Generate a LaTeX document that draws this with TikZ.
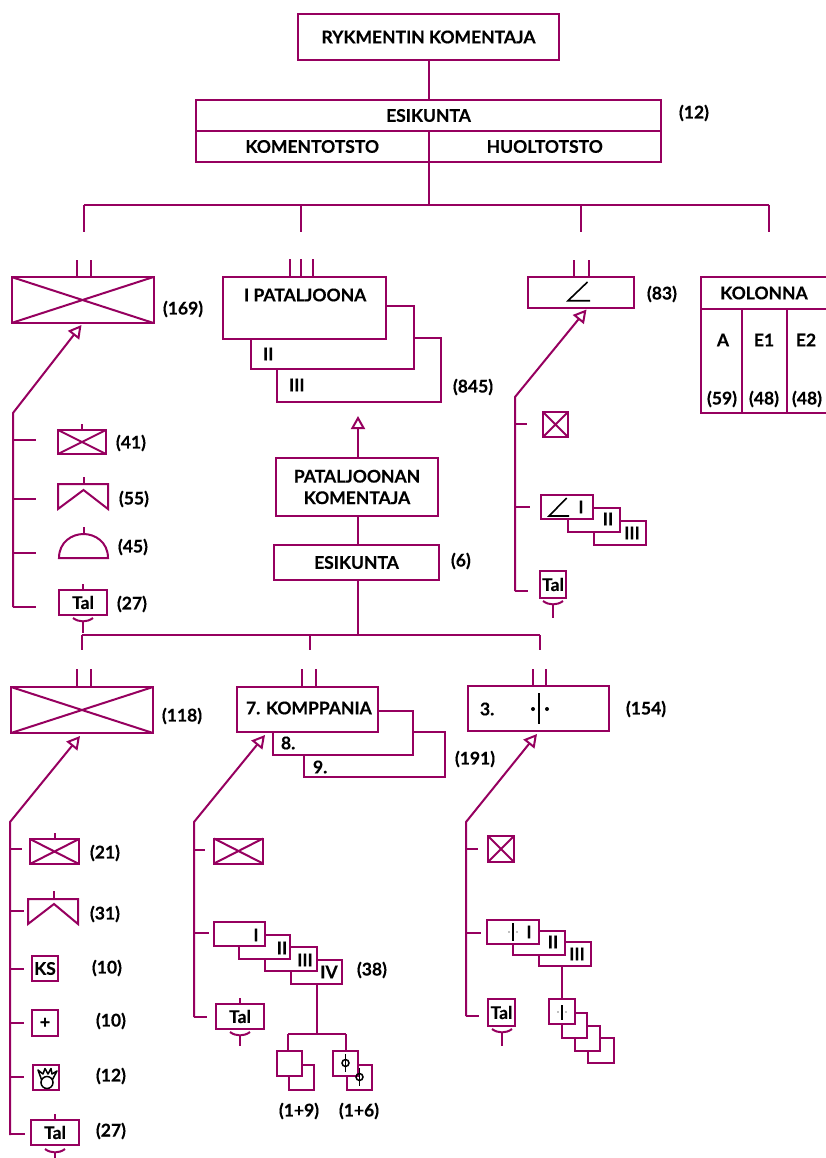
\documentclass[tikz,border=0pt]{standalone}
\usepackage{fontspec}
\setmainfont{Lato}[BoldFeatures={FakeBold=0.35}]
\usetikzlibrary{arrows.meta}
\definecolor{plum}{RGB}{150,0,95}

\begin{document}
\begin{tikzpicture}[x=1pt, y=-1pt, line width=2pt, font=\fontsize{17.5}{20.5}\selectfont\bfseries,
  ln/.style={draw=plum, line width=2pt},
  sym/.style={draw=black, line width=1.6pt},
  head/.style={draw=plum, -{Triangle[open, fill=white, length=13pt, width=14pt]}, line width=2pt},
  rbox/.style={draw=plum, fill=white, line width=2pt, inner sep=0pt, outer sep=0pt, align=center},
  txt/.style={inner sep=0pt, anchor=center},
  cnt/.style={inner sep=0pt, anchor=west, yshift=-1pt}]
\useasboundingbox (0,0) rectangle (826,1158);
% Zone A: regiment staff
\node[rbox, minimum width=261, minimum height=46] (chief) at (428.5,37) {RYKMENTIN KOMENTAJA};
\node[rbox, minimum width=465, minimum height=31] (staff) at (428.5,115.5) {ESIKUNTA};
\node[rbox, minimum width=232.5, minimum height=31] (kom) at (312.25,146.5) {KOMENTOTSTO};
\node[rbox, minimum width=232.5, minimum height=31] (huo) at (544.75,146.5) {HUOLTOTSTO};
\coordinate (hub) at (428.5,205);
\draw[ln] (chief.south) -- (staff.north);
\draw[ln] (kom.south east) -- (hub);
\coordinate (barl) at (84,205);
\coordinate (barr) at (769,205);
\draw[ln] (barl) -- (barr);
\foreach \x in {84,301,581,769}{ \coordinate (dt\x) at (\x,205); \coordinate (db\x) at (\x,232); \draw[ln] (dt\x) -- (db\x); }
% counts
\foreach \x/\y/\t [count=\i] in {678/112/(12), 162/308/(169), 646/293/(83), 452/386/(845), 450/560/(6),
    115/442/(41), 118/498/(55), 117/546/(45), 116/603/(27), 161/715/(118), 454/758/(191), 625/708/(154),
    89/852/(21), 89/913/(31), 91/967/(10), 95/1020/(10), 95/1075/(12), 95/1130/(27), 356/969/(38)}{
  \node[cnt] (cnt\i) at (\x,\y) {\t}; }
% Zone B: anti-tank company, top left
\node[rbox, minimum width=142, minimum height=46] (big1) at (82.5,300) {};
\draw[ln] (big1.north west) -- (big1.south east) (big1.north east) -- (big1.south west);
\foreach \x in {77,91}{ \coordinate (t\x) at (\x,260); \draw[ln] (t\x) -- (\x,277); }
\coordinate (ka) at (13,413);
\coordinate (kb) at (13,607);
\draw[head] (kb) -- (ka) -- (81.5,325);
\foreach \y/\e in {440/36,499/36,553/36,607/36}{ \coordinate (k\y) at (13,\y); \coordinate (ke\y) at (\e,\y); \draw[ln] (k\y) -- (ke\y); }
\node[rbox, minimum width=48, minimum height=24] (sm1) at (82,442) {};
\draw[ln] (sm1.north west) -- (sm1.south east) (sm1.north east) -- (sm1.south west);
\draw[ln] (sm1.north) -- ++(0,-6);
\draw[ln] (58,509) -- (58,484) -- (108,484) -- (108,509) -- (83.5,490) -- cycle;
\draw[ln] (83.5,484) -- (83.5,477);
\draw[ln] (59,558) .. controls (59,542) and (72,534) .. (83.5,534) .. controls (95,534) and (108,542) .. (108,558) -- cycle;
\draw[ln] (83.5,534) -- (83.5,527);
\node[rbox, minimum width=48, minimum height=25] (tal1) at (83,602.5) {Tal};
\draw[ln] (tal1.north) -- ++(0,-6);
% Zone C: battalions
\foreach \x in {290,301,313}{ \coordinate (u\x) at (\x,259); \draw[ln] (u\x) -- (\x,277); }
\node[rbox, minimum width=164, minimum height=64] (bat3) at (359,370) {};
\node[rbox, minimum width=163, minimum height=63] (bat2) at (332.5,337.5) {};
\node[rbox, minimum width=163, minimum height=62] (bat1) at (304.5,308) {};
\node[txt, anchor=west] (bat1t) at (243,295) {I PATALJOONA};
\node[txt, anchor=west] (bat2t) at (262,354) {II};
\node[txt, anchor=west] (bat3t) at (288,385) {III};
\node[rbox, minimum width=162, minimum height=58] (bkom) at (357,487) {PATALJOONAN\\[1pt]KOMENTAJA};
\node[rbox, minimum width=165, minimum height=35] (best) at (356.5,562.5) {ESIKUNTA};
\coordinate (barrow) at (358,416);
\coordinate (bkomtop) at (358,458);
\draw[head] (bkomtop) -- (barrow);
\draw[ln] (358,516) -- (358,545);
\coordinate (lowhub) at (358,635);
\draw[ln] (358,580) -- (lowhub);
\draw[ln] (82,635) -- (540,635);
\foreach \x in {82,310,540}{ \coordinate (lt\x) at (\x,635); \draw[ln] (lt\x) -- (\x,650); }
% Zone D: top right
\node[rbox, minimum width=106, minimum height=31] (arty) at (581,292.5) {};
\foreach \x in {574,589}{ \coordinate (v\x) at (\x,260); \draw[ln] (v\x) -- (\x,277); }
\draw[sym] (587.5,282) -- (568,300.7) -- (590,300.7);
\coordinate (ra) at (515,397);
\coordinate (rb) at (515,591);
\draw[head] (rb) -- (ra) -- (586.5,309.5);
\foreach \y/\e in {424/527,507/530,591/528}{ \coordinate (r\y) at (515,\y); \coordinate (re\y) at (\e,\y); \draw[ln] (r\y) -- (re\y); }
\node[rbox, minimum size=25] (sq1) at (555.5,424.5) {};
\draw[ln] (sq1.north west) -- (sq1.south east) (sq1.north east) -- (sq1.south west);
\node[rbox, minimum width=52, minimum height=24] (rs3) at (620,533) {};
\node[rbox, minimum width=52, minimum height=24] (rs2) at (593.5,520) {};
\node[rbox, minimum width=52, minimum height=24] (rs1) at (567,507) {};
\draw[sym] (566.7,498) -- (549,516) -- (569,516);
\foreach \x/\y/\t in {581/507/I, 608/519/II, 632/533/III}{ \node[txt] (rs\t) at (\x,\y) {\t}; }
\node[rbox, minimum width=26, minimum height=27] (tal2) at (553,584.5) {Tal};
% Kolonna
\draw[ln] (826,277) -- (701,277) -- (701,413) -- (826,413);
\draw[ln] (701,308.7) -- (826,308.7) (741.7,308.7) -- (741.7,413) (786.7,308.7) -- (786.7,413);
\foreach \x/\y/\t [count=\i] in {764/293/KOLONNA, 723/340/A, 764/340/E1, 806/340/E2, 722/399/(59), 764/399/(48), 807/399/(48)}{
  \node[txt] (kol\i) at (\x,\y) {\t}; }
% Zone E: bottom left
\node[rbox, minimum width=142, minimum height=46] (big2) at (82,710) {};
\draw[ln] (big2.north west) -- (big2.south east) (big2.north east) -- (big2.south west);
\foreach \x in {77,91}{ \coordinate (w\x) at (\x,669); \draw[ln] (w\x) -- (\x,687); }
\coordinate (la) at (10,822);
\coordinate (lb) at (10,1135);
\draw[head] (lb) -- (la) -- (80,736);
\foreach \y/\e in {849/22,911/24,969/24,1023/24,1077/24,1134/25}{ \coordinate (l\y) at (10,\y); \coordinate (le\y) at (\e,\y); \draw[ln] (l\y) -- (le\y); }
\node[rbox, minimum width=49, minimum height=25] (sm2) at (54.5,851.5) {};
\draw[ln] (sm2.north west) -- (sm2.south east) (sm2.north east) -- (sm2.south west);
\draw[ln] (sm2.north) -- ++(0,-6);
\draw[ln] (28,924) -- (28,899) -- (78,899) -- (78,924) -- (54,904) -- cycle;
\draw[ln] (54,899) -- (54,891);
\node[rbox, minimum size=25.5] (ks) at (45,968.5) {KS};
\node[rbox, minimum size=25.5] (plus) at (45,1023) {+};
\node[rbox, minimum size=25.5] (paw) at (46,1077.5) {};
\draw[sym, line width=1.5pt] (47,1082.5) circle[radius=6];
\draw[sym, line width=1.5pt, line join=round] (41.5,1079.5) -- (38,1070) -- (43,1074) -- (45,1068.5) -- (48,1074) -- (51,1068.5) -- (52,1074) -- (57,1071) -- (52.5,1079.5);
\node[rbox, minimum width=48, minimum height=25] (tal3) at (55,1132.5) {Tal};
\draw[ln] (tal3.north) -- ++(0,-6);
% Zone F: bottom middle
\foreach \x in {302,316}{ \coordinate (m\x) at (\x,669); \draw[ln] (m\x) -- (\x,687); }
\node[rbox, minimum width=141, minimum height=45] (co9) at (374.5,754.5) {};
\node[rbox, minimum width=140, minimum height=44] (co8) at (343,733) {};
\node[rbox, minimum width=141, minimum height=45] (co7) at (307.5,709.5) {};
\foreach \x/\y/\t [count=\i] in {245/708/7. KOMPPANIA, 280/743/8., 312/767/9.}{ \node[txt, anchor=west] (cot\i) at (\x,\y) {\t}; }
\coordinate (ma) at (194,822);
\coordinate (mb) at (194,1017);
\draw[head] (mb) -- (ma) -- (265,735);
\foreach \y/\e in {850/205,933/209,1017/207}{ \coordinate (m\y) at (194,\y); \coordinate (me\y) at (\e,\y); \draw[ln] (m\y) -- (me\y); }
\node[rbox, minimum width=49, minimum height=25] (sm3) at (238.5,851) {};
\draw[ln] (sm3.north west) -- (sm3.south east) (sm3.north east) -- (sm3.south west);
\node[rbox, minimum width=51, minimum height=24] (ms4) at (316.5,972) {};
\node[rbox, minimum width=52, minimum height=24] (ms3) at (291,959) {};
\node[rbox, minimum width=51, minimum height=24] (ms2) at (264.5,946.5) {};
\node[rbox, minimum width=51, minimum height=24] (ms1) at (239.5,934) {};
\foreach \x/\y/\t in {256/935/I, 282/948/II, 305/960/III, 329/972/IV}{ \node[txt] (mst\t) at (\x,\y) {\t}; }
\coordinate (mfork) at (316.5,1034);
\draw[ln] (ms4.south) -- (mfork);
\draw[ln] (288,1034) -- (346,1034);
\draw[ln] (288,1034) -- (288,1051) (346,1034) -- (346,1051);
\node[rbox, minimum size=25] (pl1b) at (301.5,1077) {};
\node[rbox, minimum size=25] (pl1a) at (289.5,1063.5) {};
\node[rbox, minimum size=25] (pl2b) at (359.5,1077) {};
\node[rbox, minimum size=25] (pl2a) at (345.5,1063.5) {};
\foreach \x/\y in {345.5/1063, 359.5/1077}{
  \draw[sym, line width=1.5pt] (\x,\y) circle[radius=3.5]; \draw[sym, line width=1.5pt] (\x,\y-9) -- (\x,\y+9); }
\node[txt] (pln1) at (299,1111) {(1+9)};
\node[txt] (pln2) at (359,1111) {(1+6)};
\node[rbox, minimum width=48, minimum height=25] (tal4) at (240,1016.5) {Tal};
\draw[ln] (tal4.north) -- ++(0,-6);
% Zone G: bottom right
\node[rbox, minimum width=141, minimum height=45] (co3) at (538.5,708.5) {};
\foreach \x in {533,546}{ \coordinate (n\x) at (\x,669); \draw[ln] (n\x) -- (\x,686); }
\node[txt, anchor=west] (co3t) at (479,709) {3.};
\draw[sym] (539,693) -- (539,724);
\foreach \x in {533,547}{ \fill (\x,709) circle[radius=2]; }
\coordinate (na) at (466,822);
\coordinate (nb) at (466,1016);
\draw[head] (nb) -- (na) -- (537,734);
\foreach \y/\e in {849/478,933/481,1016/479}{ \coordinate (n\y) at (466,\y); \coordinate (ne\y) at (\e,\y); \draw[ln] (n\y) -- (ne\y); }
\node[rbox, minimum size=25.5] (sq2) at (501,849) {};
\draw[ln] (sq2.north west) -- (sq2.south east) (sq2.north east) -- (sq2.south west);
\node[rbox, minimum width=52, minimum height=24] (ns3) at (565,954) {};
\node[rbox, minimum width=52, minimum height=24] (ns2) at (539,943) {};
\node[rbox, minimum width=52, minimum height=24] (ns1) at (513,932) {};
\foreach \x/\y/\t in {529/932/I, 553/942/II, 577/954/III}{ \node[txt] (nst\t) at (\x,\y) {\t}; }
\draw[sym] (513,923) -- (513,941);
\foreach \x in {509,517}{ \fill[gray] (\x,932) circle[radius=0.9]; }
\node[rbox, minimum size=25.5] (pq4) at (601,1050.5) {};
\node[rbox, minimum size=25.5] (pq3) at (587.5,1038.5) {};
\node[rbox, minimum size=25.5] (pq2) at (574.5,1025.5) {};
\node[rbox, minimum size=25.5] (pq1) at (562,1011.5) {};
\draw[ln] (pq1.north) -- (pq1.north |- ns3.south);
\draw[sym] (562,1005) -- (562,1020);
\foreach \x in {558,566}{ \fill[gray] (\x,1012) circle[radius=0.9]; }
\node[rbox, minimum width=27, minimum height=27] (tal5) at (501.5,1012.5) {Tal};
% cups below the Tal boxes
\foreach \x/\y/\e in {83/618/633, 553/601/618, 55/1149/1158, 240/1032/1046, 502/1029/1046}{
  \draw[ln] (\x-10,\y) .. controls (\x-4,\y+4.5) and (\x+4,\y+4.5) .. (\x+10,\y);
  \draw[ln] (\x,\y+3) -- (\x,\e); }
\end{tikzpicture}
\end{document}
